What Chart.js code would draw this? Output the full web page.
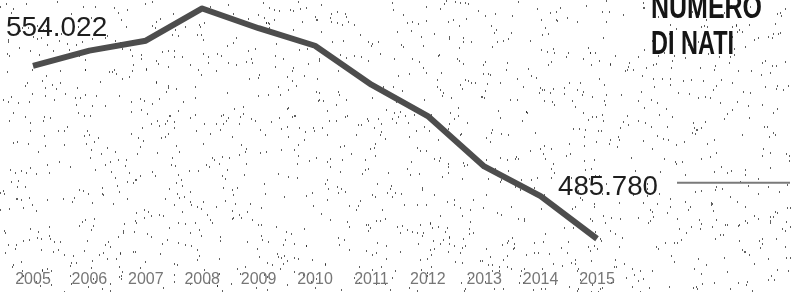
<!DOCTYPE html>
<html lang="it">
<head>
<meta charset="utf-8">
<title>Numero di nati</title>
<script src="https://cdn.jsdelivr.net/npm/chart.js@4/dist/chart.umd.min.js"></script>
<style>
    html, body { margin: 0; padding: 0; background: #ffffff; }
    #wrap { width: 793px; height: 292px; position: relative; }
</style>
</head>
<body>
<div id="wrap"><canvas id="natiChart" width="793" height="292"></canvas></div>
<script>
// Dati: nati per anno
const anni = ['2005', '2006', '2007', '2008', '2009', '2010', '2011', '2012', '2013', '2014', '2015'];
const nati = [554022, 560010, 563933, 576659, 568857, 561944, 546585, 534186, 514308, 502596, 485780];
const titolo = ['NUMERO', 'DI NATI'];
const etichettaInizio = '554.022';
const etichettaFine = '485.780';

// Retino di puntini sullo sfondo (solo decorazione, sequenza fissa)
const retinoPlugin = {
    id: 'retino',
    beforeDraw(chart) {
        const ctx = chart.ctx;
        ctx.save();
        ctx.fillStyle = '#ffffff';
        ctx.fillRect(0, 0, chart.width, chart.height);
        ctx.fillStyle = 'rgba(30,30,30,0.7)';
        let seed = 987654321;
        function next() {
            seed = (seed + 0x6D2B79F5) | 0;
            let t = Math.imul(seed ^ (seed >>> 15), 1 | seed);
            t = (t + Math.imul(t ^ (t >>> 7), 61 | t)) ^ t;
            return ((t ^ (t >>> 14)) >>> 0) / 4294967296;
        }
        for (let i = 0; i < 1500; i++) {
            const x = Math.floor(next() * chart.width);
            const y = Math.floor(next() * chart.height);
            ctx.fillRect(x, y, 1, 2);
        }
        ctx.restore();
    }
};

// Testi ed etichette sopra il grafico
const testiPlugin = {
    id: 'testi',
    afterDatasetsDraw(chart) {
        const ctx = chart.ctx;
        const xs = chart.scales.x;
        const ys = chart.scales.y;
        const ultimo = anni.length - 1;

        ctx.save();
        ctx.fillStyle = '#1e1e1e';
        ctx.textBaseline = 'alphabetic';
        ctx.textAlign = 'left';

        // valore iniziale
        ctx.font = '28px "Liberation Sans", Arial, sans-serif';
        ctx.fillText(etichettaInizio, xs.getPixelForValue(0) - 27, ys.getPixelForValue(nati[0]) - 30, 104);

        // valore finale con linea
        const yFine = ys.getPixelForValue(nati[ultimo]);
        ctx.fillText(etichettaFine, xs.getPixelForValue(ultimo) - 39, yFine - 44, 100);
        ctx.strokeStyle = '#7a7a7a';
        ctx.lineWidth = 2;
        ctx.beginPath();
        ctx.moveTo(677, yFine - 56);
        ctx.lineTo(790, yFine - 56);
        ctx.stroke();

        // titolo
        ctx.font = 'bold 34px "Liberation Sans Narrow", "Liberation Sans", Arial, sans-serif';
        ctx.fillStyle = '#151515';
        ctx.fillText(titolo[0], 651, 18, 111);
        ctx.fillText(titolo[1], 651, 54, 83);
        ctx.restore();
    }
};

document.addEventListener('DOMContentLoaded', function() {
    const ctx = document.getElementById('natiChart').getContext('2d');
    new Chart(ctx, {
        type: 'line',
        data: {
            labels: anni,
            datasets: [{
                label: 'Numero di nati',
                data: nati,
                borderColor: '#4d4d4d',
                borderWidth: 6,
                tension: 0,
                pointRadius: 0,
                borderCapStyle: 'butt',
                borderJoinStyle: 'round',
                fill: false
            }]
        },
        options: {
            responsive: false,
            animation: false,
            layout: {
                padding: { left: 33, right: 196, top: 0, bottom: 0 }
            },
            plugins: {
                legend: { display: false },
                tooltip: { enabled: false }
            },
            scales: {
                x: {
                    offset: false,
                    grid: { display: false, drawTicks: false, tickLength: 0 },
                    border: { display: false },
                    afterFit: function(scale) {
                        // altezza fissa dell'asse: area del grafico fino a y=261
                        scale.height = 31;
                    },
                    ticks: {
                        padding: 9,
                        maxRotation: 0,
                        autoSkip: false,
                        color: '#767676',
                        font: { family: '"Liberation Sans", Arial, sans-serif', size: 16 }
                    }
                },
                y: {
                    display: false,
                    min: 477000,
                    max: 580000
                }
            }
        },
        plugins: [retinoPlugin, testiPlugin]
    });
});
</script>
</body>
</html>
